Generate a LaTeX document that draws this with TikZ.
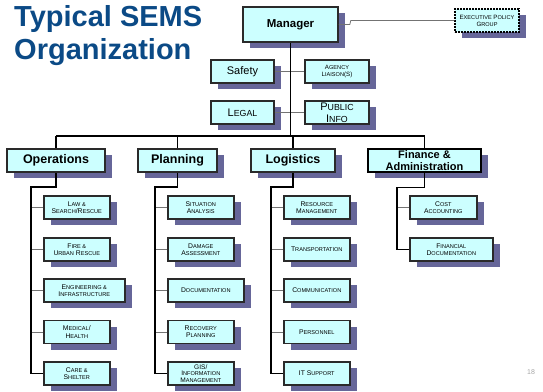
\documentclass[tikz,border=0pt]{standalone}
\usepackage{fontspec}
\setmainfont{Liberation Sans}
\usetikzlibrary{shadows}
\definecolor{boxfill}{HTML}{CCFFFF}
\definecolor{shadowc}{HTML}{666699}
\definecolor{titleblue}{HTML}{0B4A86}
\definecolor{edgec}{HTML}{2A2A2A}
\newcommand\ScS[1]{{\fontsize{5.6}{7}\selectfont #1}}
\newcommand\ScM[1]{{\fontsize{8.8}{10}\selectfont #1}}
\tikzset{
 box/.style={draw=edgec, line width=1.6pt, fill=boxfill, inner sep=0pt, align=center,
   minimum height=23pt,
   drop shadow={shadow xshift=7pt, shadow yshift=-6pt, fill=shadowc, opacity=1}},
 lvone/.style={box, font=\bfseries\fontsize{12.5}{14}\selectfont},
 tiny/.style={box, anchor=west, font=\fontsize{6.8}{7.2}\selectfont},
 staff/.style={box, font=\fontsize{11}{12}\selectfont, minimum width=63pt},
 trunk/.style={line width=1.6pt, draw=black},
 tick/.style={line width=0.8pt, draw=black!55},
}
\begin{document}
\begin{tikzpicture}[x=1pt,y=-1pt]
\useasboundingbox (0,0) rectangle (543,391);
% title
\node[anchor=base west, inner sep=0pt, text=titleblue, font=\bfseries\fontsize{29}{33}\selectfont] (title1) at (14,26.5) {Typical SEMS};
\node[anchor=base west, inner sep=0pt, text=titleblue, font=\bfseries\fontsize{29}{33}\selectfont] (title2) at (14,59.5) {Organization};
\node[anchor=base, inner sep=0pt, text=black!35, font=\fontsize{7}{8}\selectfont] (pageno) at (531,374) {18};

% top
\node[lvone, font=\bfseries\fontsize{11.5}{13}\selectfont, minimum width=95pt, minimum height=35pt] (mgr) at (290.5,24.5) {Manager};
\node[box, dashed, dash pattern=on 2pt off 1pt, draw=black, line width=1.1pt, minimum width=64pt, font=\fontsize{6.2}{7}\selectfont] (epg) at (487,20.5) {E\ScS{XECUTIVE} P\ScS{OLICY}\\G\ScS{ROUP}};
\node[staff] (safety) at (242.5,71.5) {Safety};
\node[staff, minimum width=64pt, font=\fontsize{6.2}{7}\selectfont] (agency) at (337,71.5) {A\ScS{GENCY}\\L\ScS{IAISON}(S)};
\node[staff] (legal) at (242.5,112.5) {L\ScM{EGAL}};
\node[staff, minimum width=64pt] (pinfo) at (337,112.5) {P\ScM{UBLIC}\\I\ScM{NFO}};

% level one
\node[lvone, minimum width=98pt] (ops) at (56,160.5) {Operations};
\node[lvone, minimum width=79pt] (plan) at (177.5,160.5) {Planning};
\node[lvone, minimum width=84pt] (logi) at (293,160.5) {Logistics};
\node[box, draw=black, line width=2.6pt, minimum width=113pt, font=\bfseries\fontsize{11}{12}\selectfont] (fin) at (424.5,160.5) {Finance \&\\Administration};

% operations
\node[tiny, minimum width=66pt] (o1) at (43,207.5) {L\ScS{AW \&}\\S\ScS{EARCH}/R\ScS{ESCUE}};
\node[tiny, minimum width=66pt] (o2) at (43,249.5) {F\ScS{IRE \&}\\U\ScS{RBAN} R\ScS{ESCUE}};
\node[tiny, minimum width=81pt] (o3) at (43,290.5) {E\ScS{NGINEERING \&}\\I\ScS{NFRASTRUCTURE}};
\node[tiny, minimum width=66pt] (o4) at (43,332) {M\ScS{EDICAL}/\\H\ScS{EALTH}};
\node[tiny, minimum width=66pt] (o5) at (43,373.5) {C\ScS{ARE \&}\\S\ScS{HELTER}};
% planning
\node[tiny, minimum width=66pt] (p1) at (167,207.5) {S\ScS{ITUATION}\\A\ScS{NALYSIS}};
\node[tiny, minimum width=66pt] (p2) at (167,249.5) {D\ScS{AMAGE}\\A\ScS{SSESSMENT}};
\node[tiny, minimum width=76pt] (p3) at (167,290.5) {D\ScS{OCUMENTATION}};
\node[tiny, minimum width=66pt] (p4) at (167,332) {R\ScS{ECOVERY}\\P\ScS{LANNING}};
\node[tiny, minimum width=66pt, font=\fontsize{6.6}{6.8}\selectfont] (p5) at (167,373.5) {GIS/\\I\ScS{NFORMATION}\\M\ScS{ANAGEMENT}};
% logistics
\node[tiny, minimum width=66pt] (l1) at (283,207.5) {R\ScS{ESOURCE}\\M\ScS{ANAGEMENT}};
\node[tiny, minimum width=66pt] (l2) at (283,249.5) {T\ScS{RANSPORTATION}};
\node[tiny, minimum width=66pt] (l3) at (283,290.5) {C\ScS{OMMUNICATION}};
\node[tiny, minimum width=66pt] (l4) at (283,332) {P\ScS{ERSONNEL}};
\node[tiny, minimum width=66pt] (l5) at (283,373.5) {IT S\ScS{UPPORT}};
% finance
\node[tiny, minimum width=67pt] (f1) at (409,207.5) {C\ScS{OST}\\A\ScS{CCOUNTING}};
\node[tiny, minimum width=83pt] (f2) at (409,249.5) {F\ScS{INANCIAL}\\D\ScS{OCUMENTATION}};

% thin connectors
\draw[tick] (mgr.east) -- ++(11,0) -- ++(1,-4) -- (epg.west);
\draw[tick] (safety.east) -- (agency.west);
\draw[tick] (legal.east) -- (pinfo.west);
\foreach \n in {o1,o2,o3,o4,p1,p2,p3,p4,l1,l2,l3,l4,f1}
  \draw[tick] (\n.west) -- ++(-12,0);

% trunk
\coordinate (busL) at (56,136);
\coordinate (busR) at (424.5,136);
\draw[trunk] (mgr.south) -- (mgr.south |- busL);
\draw[trunk, line width=1.2pt] (busL) -- (busR);
\draw[trunk, line width=1.2pt] (ops.north) -- (ops.north |- busL);
\draw[trunk, line width=1.2pt] (plan.north) -- (plan.north |- busL);
\draw[trunk, line width=1.2pt] (logi.north) -- (logi.north |- busL);
\draw[trunk, line width=1.2pt] (fin.north) -- (fin.north |- busL);
\draw[trunk] (ops.south) -- ++(0,14) -| ([xshift=-12pt]o5.west) -- (o5.west);
\draw[trunk] (plan.south) -- ++(0,14) -| ([xshift=-12pt]p5.west) -- (p5.west);
\draw[trunk] (logi.south) -- ++(0,14) -| ([xshift=-12pt]l5.west) -- (l5.west);
\draw[trunk] (fin.south) -- ++(0,14) -| ([xshift=-12pt]f2.west) -- (f2.west);
\end{tikzpicture}
\end{document}
